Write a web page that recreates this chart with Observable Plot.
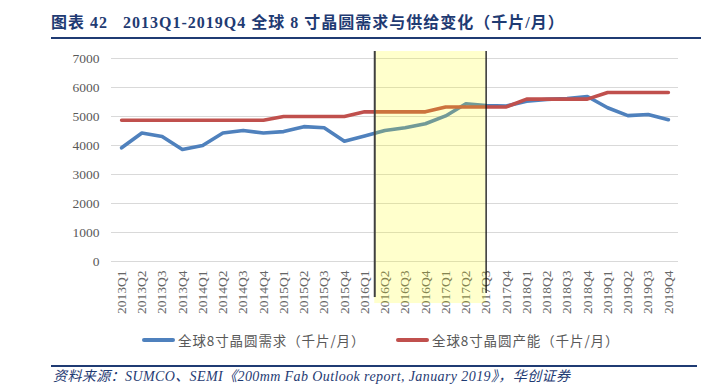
<!DOCTYPE html>
<html>
<head>
<meta charset="utf-8">
<script src="https://cdn.jsdelivr.net/npm/d3@7"></script>
<script src="https://cdn.jsdelivr.net/npm/@observablehq/plot@0.6"></script>
<style>
  html, body { margin: 0; padding: 0; background: #fff; width: 714px; height: 384px; overflow: hidden; position: relative; }
  #title { position: absolute; left: 51px; top: 12px; width: 650px; height: 25px; border-bottom: 2px solid #1f3b73;
    font-family: "Liberation Serif", "Noto Sans CJK SC", serif; font-weight: bold; font-size: 16px; letter-spacing: 1px; color: #1f3b73; line-height: 22px; white-space: pre; }
  #chart { position: absolute; left: 0; top: 40px; }
  #legend { position: absolute; left: 0; top: 330px; width: 714px; height: 20px; font-family: "Noto Sans CJK SC", sans-serif; font-size: 13.5px; letter-spacing: 0.9px; color: #595959; }
  .item { position: absolute; top: 0; display: flex; align-items: center; height: 20px; white-space: nowrap; }
  .sw { width: 33px; height: 4px; border-radius: 2px; margin-right: 3px; }
  #rule { position: absolute; left: 51px; top: 365px; width: 646px; height: 0; border-top: 2px solid #1f3b73; }
  #source { position: absolute; left: 53px; top: 368px; font-family: "Liberation Serif", "Noto Sans CJK SC", serif; font-style: italic; font-size: 14px; letter-spacing: 0.4px; color: #1f3b73; white-space: nowrap; line-height: 18px; }
</style>
</head>
<body>
<div id="title">图表 42   2013Q1-2019Q4 全球 8 寸晶圆需求与供给变化（千片/月）</div>
<div id="chart"></div>
<div id="legend"></div>
<div id="rule"></div>
<div id="source">资料来源：SUMCO、SEMI《200mm Fab Outlook report, January 2019》，华创证券</div>
<script>
const categories = ["2013Q1","2013Q2","2013Q3","2013Q4","2014Q1","2014Q2","2014Q3","2014Q4",
  "2015Q1","2015Q2","2015Q3","2015Q4","2016Q1","2016Q2","2016Q3","2016Q4",
  "2017Q1","2017Q2","2017Q3","2017Q4","2018Q1","2018Q2","2018Q3","2018Q4",
  "2019Q1","2019Q2","2019Q3","2019Q4"];
const demand = [3920,4430,4310,3860,4000,4430,4520,4430,4480,4650,4610,4150,4330,4520,4610,4750,
  5020,5440,5380,5360,5530,5590,5620,5690,5300,5030,5070,4890];
const capacity = [4870,4870,4870,4870,4870,4870,4870,4870,5000,5000,5000,5000,5160,5160,5160,5160,
  5330,5330,5330,5330,5600,5600,5600,5600,5830,5830,5830,5830];
const yTicks = [0,1000,2000,3000,4000,5000,6000,7000];
const seriesNames = ["全球8寸晶圆需求（千片/月）", "全球8寸晶圆产能（千片/月）"];
const seriesColors = ["#4f81bd", "#c0504d"];
const highlight = {start: 12.5, end: 18};

const rows = categories.map((c, i) => ({i, c, demand: demand[i], capacity: capacity[i]}));

const chart = Plot.plot({
  width: 714,
  height: 290,
  marginLeft: 111,
  marginRight: 36,
  marginTop: 18,
  marginBottom: 69,
  style: {fontFamily: "'Liberation Serif', serif", fontSize: "13.5px", color: "#595959", background: "transparent", overflow: "visible"},
  x: {type: "linear", domain: [-0.5, categories.length - 0.5]},
  y: {domain: [0, 7000]},
  marks: [
    Plot.ruleY(yTicks, {stroke: "#d9d9d9", strokeWidth: 1}),
    Plot.line(rows, {x: "i", y: "demand", stroke: seriesColors[0], strokeWidth: 3.6, strokeLinejoin: "round"}),
    Plot.line(rows, {x: "i", y: "capacity", stroke: seriesColors[1], strokeWidth: 3.6, strokeLinejoin: "round"}),
    Plot.axisY({ticks: yTicks, tickSize: 0, tickPadding: 12, tickFormat: d => String(d), label: null, fill: "#595959", fontSize: 13.5}),
    Plot.axisX({ticks: d3.range(categories.length), tickSize: 0, tickPadding: 9, tickRotate: -90,
      tickFormat: i => categories[i], label: null, fill: "#666", fontSize: 13.5}),
    Plot.rect([highlight], {x1: "start", x2: "end", y1: () => -1450, y2: () => 7242, fill: "#ffff00", fillOpacity: 0.2}),
    Plot.ruleX([highlight.start], {y1: -1243, y2: 7242, stroke: "#404040", strokeWidth: 2}),
    Plot.ruleX([highlight.end], {y1: -1100, y2: 7242, stroke: "#111", strokeWidth: 1.3})
  ]
});
document.getElementById("chart").appendChild(chart);

const legend = document.getElementById("legend");
const lefts = [142, 396];
seriesNames.forEach((n, k) => {
  const it = document.createElement("div");
  it.className = "item";
  it.style.left = lefts[k] + "px";
  it.innerHTML = `<span class="sw" style="background:${seriesColors[k]}"></span><span>${n}</span>`;
  legend.appendChild(it);
});
</script>
</body>
</html>
